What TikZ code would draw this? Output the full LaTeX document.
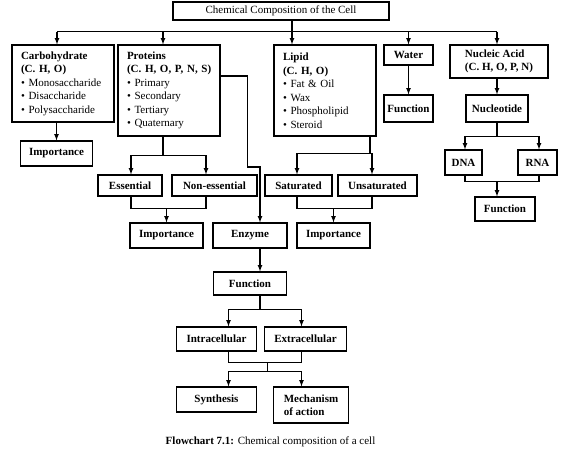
\documentclass[tikz,border=0pt]{standalone}
\usepackage{fontspec}
\setmainfont{Liberation Serif}
\usetikzlibrary{positioning, arrows}

\begin{document}
\begin{tikzpicture}[x=1pt, y=1pt, on grid, >=latex, line width=1.2pt,
    every node/.style={font=\fontsize{11}{13.5}\selectfont},
    box/.style={draw, inner sep=2pt, align=center, font=\fontsize{11}{13.5}\selectfont\bfseries},
    listbox/.style={box, align=left, text width=84pt, inner xsep=9pt}]
    \useasboundingbox (0,0) rectangle (567,-453);

    \node[box, minimum width=216pt, minimum height=18pt, font=\fontsize{11}{13.5}\selectfont] (title) at (281,-11) {Chemical Composition of the Cell};

    %top row
    \node[listbox, minimum height=77pt] (carb) [below left=72.5pt and 218pt of title]
        {Carbohydrate\\(C. H, O)\\{\mdseries\textbullet\ Monosaccharide}\\{\mdseries\textbullet\ Disaccharide}\\{\mdseries\textbullet\ Polysaccharide}};
    \node[listbox, minimum height=91pt] (prot) [right=106pt of carb, yshift=-7pt]
        {Proteins\\\mbox{(C. H, O, P, N, S)}\\{\mdseries\textbullet\ Primary}\\{\mdseries\textbullet\ Secondary}\\{\mdseries\textbullet\ Tertiary}\\{\mdseries\textbullet\ Quaternary}};
    \node[listbox, minimum height=91pt] (lipid) [right=156pt of prot]
        {Lipid\\(C. H, O)\\{\mdseries\textbullet\ Fat \& Oil}\\{\mdseries\textbullet\ Wax}\\{\mdseries\textbullet\ Phospholipid}\\{\mdseries\textbullet\ Steroid}};
    \node[box, minimum width=49pt, minimum height=20pt] (water) [above right=35.5pt and 83.5pt of lipid] {Water};
    \node[box, align=left, minimum width=98pt, minimum height=33pt] (nucleic) [right=90.5pt of water, yshift=-6.5pt] {Nucleic Acid\\(C. H, O, P, N)};

    \node[box, minimum width=49pt, minimum height=27pt] (wfunc) [below=53.5pt of water] {Function};
    \node[box, minimum width=62pt, minimum height=27pt] (nucleotide) [below=47pt of nucleic, xshift=-2pt] {Nucleotide};
    \node[box, minimum width=72pt, minimum height=25pt] (carbimp) [below=70pt of carb, xshift=-6.5pt] {Importance};

    %middle
    \node[box, minimum width=64pt, minimum height=21pt] (ess) [below=95pt of prot, xshift=-39pt] {Essential};
    \node[box, minimum width=85pt, minimum height=21pt] (noness) [right=84.5pt of ess] {Non-essential};
    \node[box, minimum width=67pt, minimum height=21pt] (sat) [right=84pt of noness] {Saturated};
    \node[box, minimum width=79pt, minimum height=21pt] (unsat) [right=79pt of sat] {Unsaturated};
    \node[box, minimum width=73pt, minimum height=25pt] (protimp) [below=50pt of ess, xshift=36.5pt] {Importance};
    \node[box, minimum width=74pt, minimum height=25pt] (enzyme) [right=83.5pt of protimp] {Enzyme};
    \node[box, minimum width=73pt, minimum height=25pt] (lipimp) [right=83.5pt of enzyme] {Importance};

    %nucleic acid side
    \node[box, minimum width=37pt, minimum height=25pt] (dna) [below=54pt of nucleotide, xshift=-33.5pt] {DNA};
    \node[box, minimum width=39pt, minimum height=25pt] (rna) [right=74pt of dna] {RNA};
    \node[box, minimum width=60pt, minimum height=24pt] (nfunc) [below=46.5pt of dna, xshift=41.5pt] {Function};

    %enzyme part
    \node[box, minimum width=73pt, minimum height=23pt] (func) [below=48pt of enzyme] {Function};
    \node[box, minimum width=80pt, minimum height=24pt] (intra) [below=55.5pt of func, xshift=-33.5pt] {Intracellular};
    \node[box, minimum width=82pt, minimum height=24pt] (extra) [right=89pt of intra] {Extracellular};
    \node[box, minimum width=80pt, minimum height=25pt] (synth) [below=60.5pt of intra] {Synthesis};
    \node[box, align=left, minimum width=75pt, minimum height=36pt] (mech) [right=94.5pt of synth, yshift=-5.5pt] {Mechanism\\of action};

    \node (caption) [below=42.5pt of synth, xshift=54pt] {\textbf{Flowchart 7.1:} Chemical composition of a cell};

    %connectors
    \coordinate (bus) at ([yshift=-11pt]title.south);
    \coordinate (lipin) at ([xshift=-33pt]lipid.north);
    \coordinate (carbin) at ([xshift=-6pt]carb.north);
    \coordinate (protin) at ([xshift=-6pt]prot.north);
    \coordinate (nucin) at (nucleic.north -| nucleotide.north);
    \draw (bus -| carbin) -- (bus -| nucin);
    \draw[->] (title.south -| lipin) -- (lipin);
    \draw[->] (bus -| carbin) -- (carbin);
    \draw[->] (bus -| protin) -- (protin);
    \draw[->] (bus -| water.north) -- (water.north);
    \draw[->] (bus -| nucin) -- (nucin);

    \draw[->] (carb.south -| carbimp.north) -- (carbimp.north);
    \draw[->] (water.south) -- (wfunc.north);
    \draw[->] (nucin |- nucleic.south) -- (nucleotide.north);

    %proteins
    \coordinate (protsplit) at ([xshift=-6pt, yshift=-19pt]prot.south);
    \draw (prot.south -| protsplit) -- (protsplit);
    \draw[->] (protsplit) -| ([xshift=1pt]ess.north);
    \draw[->] (protsplit) -| ([xshift=-8.5pt]noness.north);
    \coordinate (protjoin) at ([yshift=14pt]protimp.north);
    \draw ([xshift=1pt]ess.south) |- ([xshift=-8.5pt]noness.south |- protjoin) -- ([xshift=-8.5pt]noness.south);
    \draw[->] (protjoin) -- (protimp.north);
    \draw[->] ([yshift=14.5pt]prot.east) -- ++(27pt,0) -- ++(0,-91pt) -| ([xshift=10pt]enzyme.north);

    %lipid
    \coordinate (lipsplit) at ([xshift=45pt, yshift=-17pt]lipid.south);
    \draw (lipid.south -| lipsplit) -- (lipsplit);
    \draw[->] (lipsplit) -| ([xshift=-1.5pt]sat.north);
    \draw[->] (lipsplit) -| ([xshift=-5.5pt]unsat.north);
    \coordinate (lipjoin) at ([yshift=14pt]lipimp.north);
    \draw ([xshift=-1.5pt]sat.south) |- ([xshift=-5.5pt]unsat.south |- lipjoin) -- ([xshift=-5.5pt]unsat.south);
    \draw[->] (lipjoin) -- (lipimp.north);

    %nucleotide
    \coordinate (nucsplit) at ([yshift=-14pt]nucleotide.south);
    \draw (nucleotide.south) -- (nucsplit);
    \draw[->] (nucsplit) -| ([xshift=1.5pt]dna.north);
    \draw[->] (nucsplit) -| ([xshift=1.5pt]rna.north);
    \coordinate (nucjoin) at ([xshift=-8pt, yshift=15pt]nfunc.north);
    \draw ([xshift=1.5pt]dna.south) |- ([xshift=1.5pt]rna.south |- nucjoin) -- ([xshift=1.5pt]rna.south);
    \draw[->] (nucjoin) -- ([xshift=-8pt]nfunc.north);

    %enzyme
    \draw[->] ([xshift=10pt]enzyme.south) -- ([xshift=10pt]enzyme.south |- func.north);
    \coordinate (funcsplit) at ([xshift=10pt, yshift=-14pt]func.south);
    \draw ([xshift=10pt]func.south) -- (funcsplit);
    \draw[->] (funcsplit) -| ([xshift=12pt]intra.north);
    \draw[->] (funcsplit) -| ([xshift=-4pt]extra.north);
    \coordinate (celljoin) at ([xshift=51pt, yshift=-11pt]intra.south);
    \coordinate (cellsplit) at ([yshift=-9pt]celljoin);
    \draw ([xshift=12pt]intra.south) |- ([xshift=-4pt]extra.south |- celljoin) -- ([xshift=-4pt]extra.south);
    \draw (celljoin) -- (cellsplit);
    \draw[->] (cellsplit) -| ([xshift=12pt]synth.north);
    \draw[->] (cellsplit) -| ([xshift=-9.5pt]mech.north);
\end{tikzpicture}
\end{document}
